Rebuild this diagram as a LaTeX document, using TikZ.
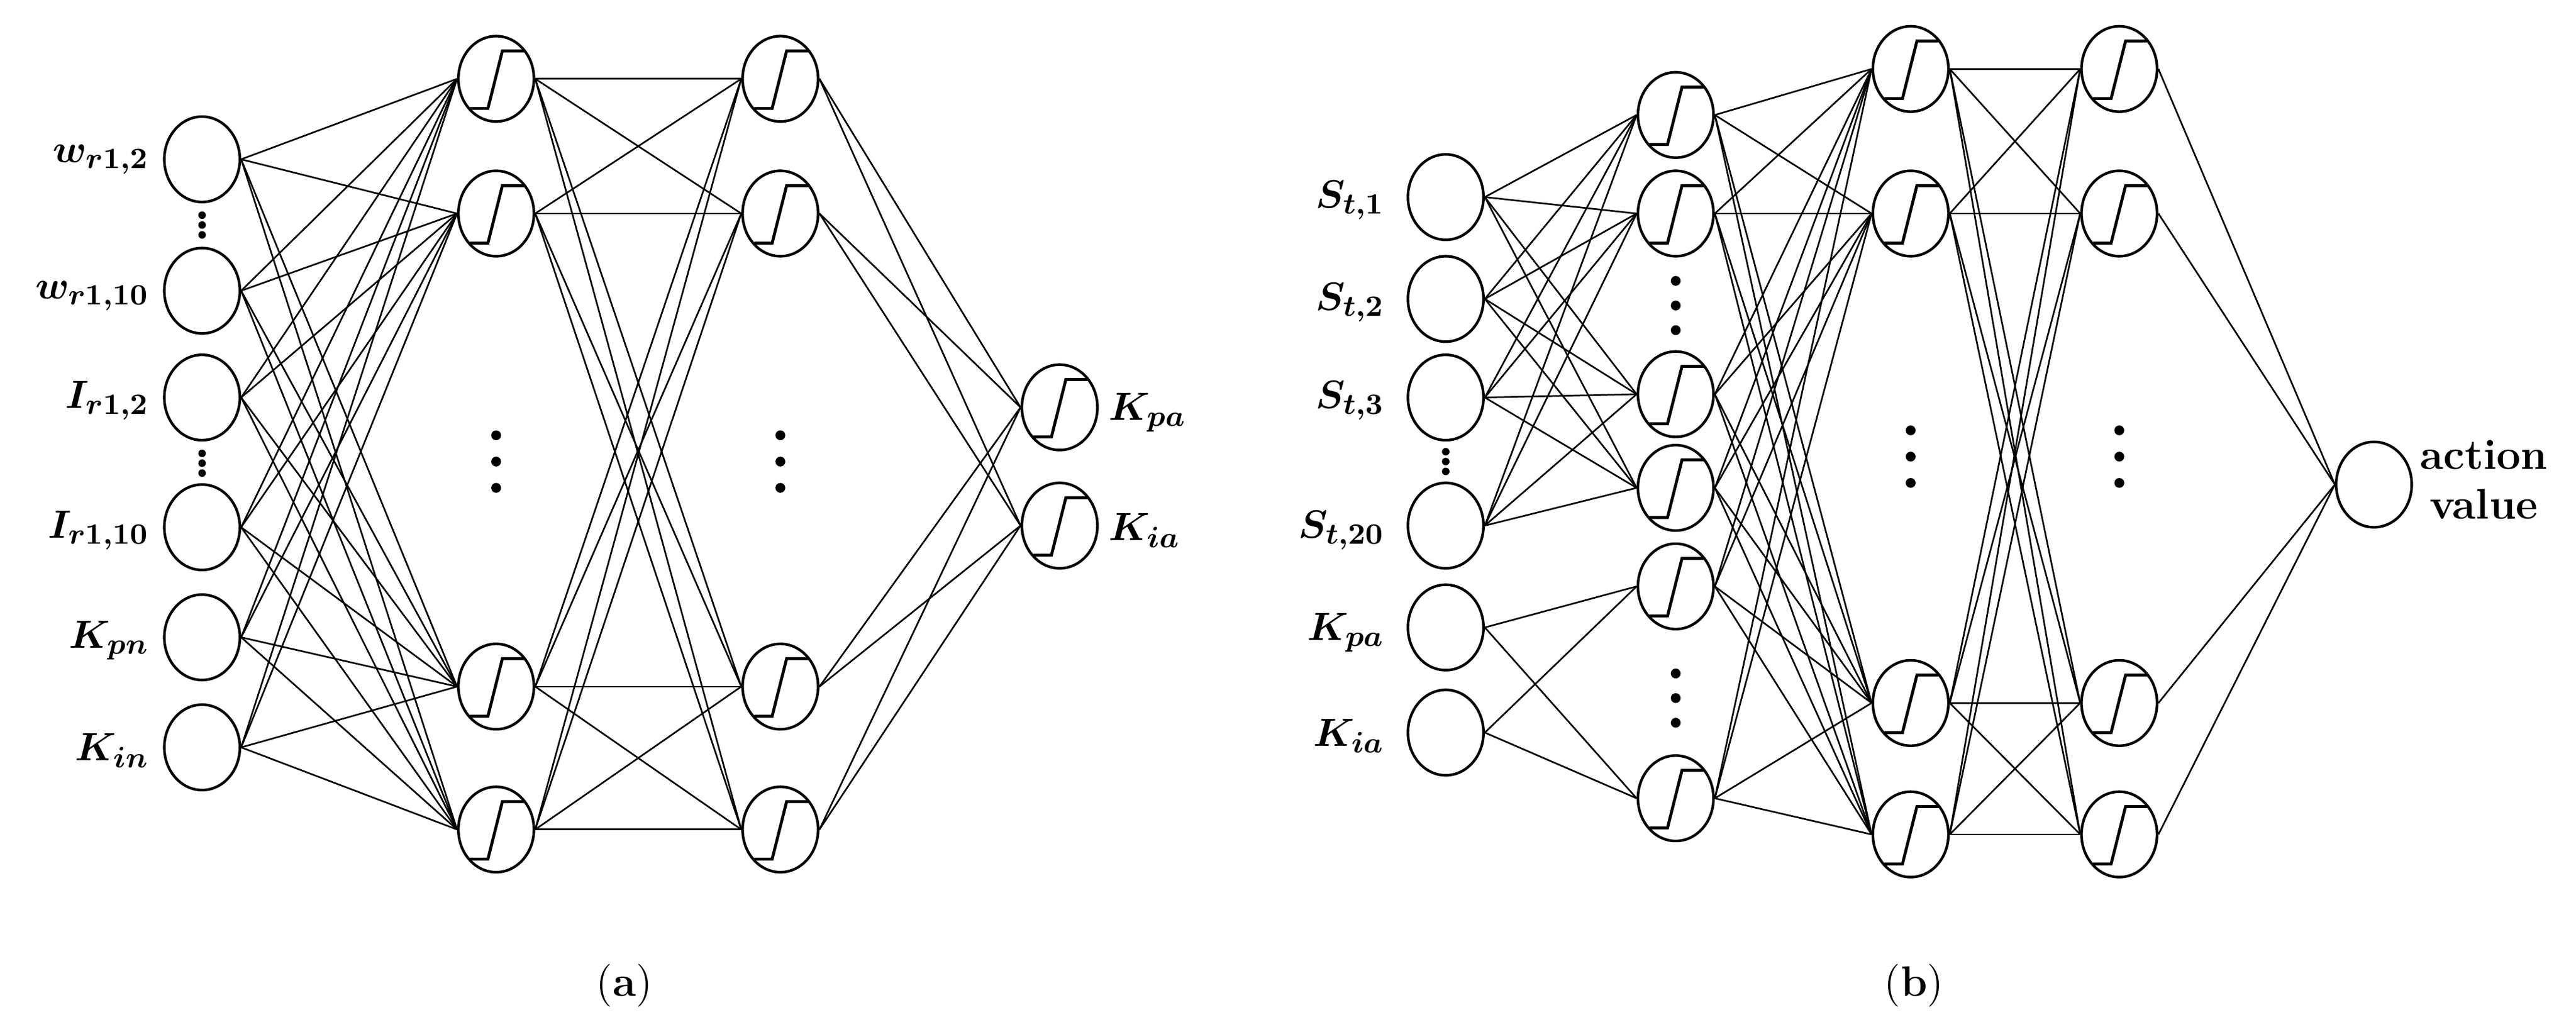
\documentclass[tikz,border=0pt]{standalone}
\usepackage{amsmath,bm}
\usetikzlibrary{shapes.geometric}
\begin{document}
\begin{tikzpicture}[x=0.5pt,y=-0.5pt,
  neu/.style={ellipse,draw,line width=0.8pt,minimum width=23pt,minimum height=26pt,inner sep=0pt},
  sig/.style={neu,path picture={
    \draw[line width=0.9pt] ([xshift=-8pt,yshift=-9pt]path picture bounding box.center) -- ++(5.5pt,0) -- ++(4.4pt,17.5pt) -- ++(6.7pt,0);}},
  con/.style={line width=0.5pt},
  lab/.style={font=\fontsize{13}{15}\selectfont},
  dot/.style={circle,fill,inner sep=0pt,minimum size=3pt}]
\useasboundingbox (0,0) rectangle (1568,625);
% ---------- panel (a)
\foreach \y [count=\i] in {97,177,242,321,388,455} \node[neu] (ai\i) at (123,\y) {};
\foreach \y [count=\i] in {48,130,418,505} \node[sig] (ah\i) at (302,\y) {};
\foreach \y [count=\i] in {48,130,418,505} \node[sig] (ag\i) at (475,\y) {};
\foreach \y [count=\i] in {248,320} \node[sig] (ao\i) at (645,\y) {};
\foreach \i in {1,...,6} \foreach \j in {1,...,4} \draw[con] (ai\i.east) -- (ah\j.west);
\foreach \i in {1,...,4} \foreach \j in {1,...,4} \draw[con] (ah\i.east) -- (ag\j.west);
\foreach \i in {1,...,4} \foreach \j in {1,2} \draw[con] (ag\i.east) -- (ao\j.west);
\node[lab,anchor=east] (la1) at (98,97) {$\bm{w_{r1,2}}$};
\node[lab,anchor=east] (la2) at (98,180) {$\bm{w_{r1,10}}$};
\node[lab,anchor=east] (la3) at (98,244) {$\bm{I_{r1,2}}$};
\node[lab,anchor=east] (la4) at (98,323) {$\bm{I_{r1,10}}$};
\node[lab,anchor=east] (la5) at (98,390) {$\bm{K_{pn}}$};
\node[lab,anchor=east] (la6) at (98,457) {$\bm{K_{in}}$};
\node[lab,anchor=west] (lao1) at (668,251) {$\bm{K_{pa}}$};
\node[lab,anchor=west] (lao2) at (668,323) {$\bm{K_{ia}}$};
\foreach \y [count=\k] in {131,137,143} \node[dot,minimum size=2.3pt] (ad1\k) at (123,\y) {};
\foreach \y [count=\k] in {276,282,288} \node[dot,minimum size=2.3pt] (ad2\k) at (123,\y) {};
\foreach \y [count=\k] in {265,281,297} {\node[dot] (ad3\k) at (302,\y) {}; \node[dot] (ad4\k) at (475,\y) {};}
\node[lab] (capa) at (380,600) {(\textbf{a})};
% ---------- panel (b)
\foreach \y [count=\i] in {120,182,242,320,382,446} \node[neu] (bi\i) at (880,\y) {};
\foreach \y [count=\i] in {70,130,240,297,357,486} \node[sig] (bh\i) at (1020,\y) {};
\foreach \y [count=\i] in {42,130,428,508} \node[sig] (bg\i) at (1163,\y) {};
\foreach \y [count=\i] in {42,130,428,508} \node[sig] (bk\i) at (1290,\y) {};
\node[neu] (bo) at (1445,295) {};
\foreach \i in {1,...,4} \foreach \j in {1,...,4} \draw[con] (bi\i.east) -- (bh\j.west);
\foreach \i in {5,6} \foreach \j in {5,6} \draw[con] (bi\i.east) -- (bh\j.west);
\foreach \i in {1,...,6} \foreach \j in {1,...,4} \draw[con] (bh\i.east) -- (bg\j.west);
\foreach \i in {1,...,4} \foreach \j in {1,...,4} \draw[con] (bg\i.east) -- (bk\j.west);
\foreach \i in {1,...,4} \draw[con] (bk\i.east) -- (bo.west);
\node[lab,anchor=east] (lb1) at (850,122) {$\bm{S_{t,1}}$};
\node[lab,anchor=east] (lb2) at (850,184) {$\bm{S_{t,2}}$};
\node[lab,anchor=east] (lb3) at (850,244) {$\bm{S_{t,3}}$};
\node[lab,anchor=east] (lb4) at (850,323) {$\bm{S_{t,20}}$};
\node[lab,anchor=east] (lb5) at (850,385) {$\bm{K_{pa}}$};
\node[lab,anchor=east] (lb6) at (850,448) {$\bm{K_{ia}}$};
\node[lab,align=center,anchor=west,font=\fontsize{13}{15}\selectfont\bfseries] (lbo) at (1466,292) {action\\value};
\foreach \y [count=\k] in {275,281,287} \node[dot,minimum size=2.3pt] (bd1\k) at (880,\y) {};
\foreach \y [count=\k] in {171,186,201} \node[dot] (bd2\k) at (1020,\y) {};
\foreach \y [count=\k] in {410,425,440} \node[dot] (bd3\k) at (1020,\y) {};
\foreach \y [count=\k] in {262,278,294} {\node[dot] (bd4\k) at (1163,\y) {}; \node[dot] (bd5\k) at (1290,\y) {};}
\node[lab] (capb) at (1165,600) {(\textbf{b})};
\end{tikzpicture}
\end{document}
